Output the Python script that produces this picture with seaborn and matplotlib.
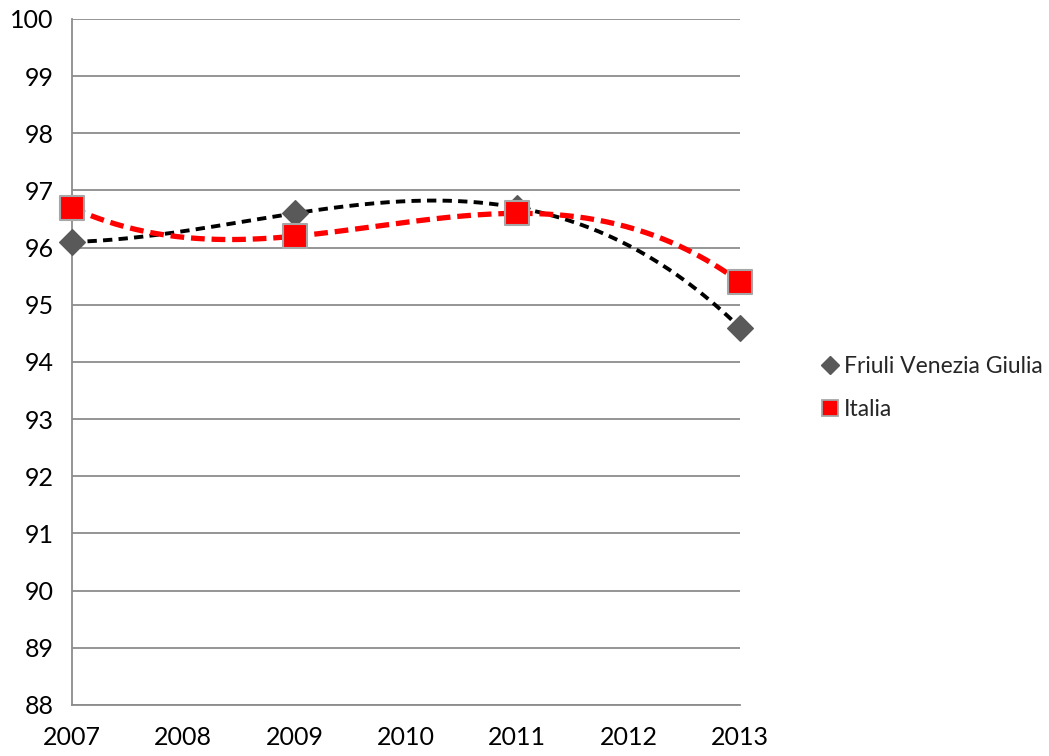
import numpy as np
import pandas as pd
import matplotlib
matplotlib.use("Agg")
import matplotlib.pyplot as plt
import seaborn as sns
from matplotlib.lines import Line2D

years = [2007, 2009, 2011, 2013]
friuli = [96.1, 96.6, 96.7, 94.6]
italia = [96.7, 96.2, 96.6, 95.4]
labels = ["Friuli Venezia Giulia", "Italia"]

df = pd.DataFrame({
    "anno": years * 2,
    "valore": friuli + italia,
    "serie": [labels[0]] * 4 + [labels[1]] * 4,
})

# polynomial trendlines (order 3), as in the original spreadsheet chart
xs = np.linspace(2007, 2013, 200)
trend = pd.DataFrame({
    "anno": np.concatenate([xs, xs]),
    "valore": np.concatenate([
        np.polyval(np.polyfit(years, friuli, 3), xs),
        np.polyval(np.polyfit(years, italia, 3), xs),
    ]),
    "serie": [labels[0]] * len(xs) + [labels[1]] * len(xs),
})

sns.set_style("white")
plt.rcParams["font.family"] = ["Lato", "DejaVu Sans"]

fig = plt.figure(figsize=(10.49, 7.56), dpi=100)
ax = fig.add_axes([0.0686, 0.0675, 0.6368, 0.9074])

sns.lineplot(data=trend[trend.serie == labels[0]], x="anno", y="valore",
             color="black", lw=2.8, ax=ax, legend=False)
ax.lines[-1].set_dashes([2.4, 1.6])
sns.lineplot(data=trend[trend.serie == labels[1]], x="anno", y="valore",
             color="#ff0000", lw=3.8, ax=ax, legend=False)
ax.lines[-1].set_dashes([2.6, 1.3])

sns.scatterplot(data=df[df.serie == labels[0]], x="anno", y="valore",
                marker="D", s=170, color="#595959", edgecolor="#595959",
                ax=ax, legend=False, zorder=3, clip_on=False)
sns.scatterplot(data=df[df.serie == labels[1]], x="anno", y="valore",
                marker="s", s=280, color="#ff0000", edgecolor="#a6a6a6",
                linewidth=1.5, ax=ax, legend=False, zorder=4, clip_on=False)

ax.set_xlim(2007, 2013)
ax.set_ylim(88, 100)
ax.set_xticks(range(2007, 2014))
ax.set_yticks(range(88, 101))
ax.set_xlabel("")
ax.set_ylabel("")
ax.grid(axis="y", color="#8c8c8c", lw=1.3)
ax.set_axisbelow(True)
for s in ["top", "right"]:
    ax.spines[s].set_visible(False)
for s in ["left", "bottom"]:
    ax.spines[s].set_color("#8c8c8c")
    ax.spines[s].set_linewidth(1.3)
ax.tick_params(axis="both", length=7, width=1.3, color="#8c8c8c",
               labelsize=18, labelcolor="black", direction="out")
ax.tick_params(axis="x", pad=8)
ax.tick_params(axis="y", pad=6)

handles = [
    Line2D([], [], marker="D", ls="none", color="#595959", markersize=9),
    Line2D([], [], marker="s", ls="none", markerfacecolor="#ff0000",
           markeredgecolor="#a6a6a6", markeredgewidth=1.3, markersize=12),
]
fig.legend(handles, labels, loc="upper left", bbox_to_anchor=(0.765, 0.556),
           frameon=False, fontsize=16.5, handlelength=0.6, handletextpad=0.3,
           labelspacing=0.95)

fig.savefig("out.png", dpi=100)
